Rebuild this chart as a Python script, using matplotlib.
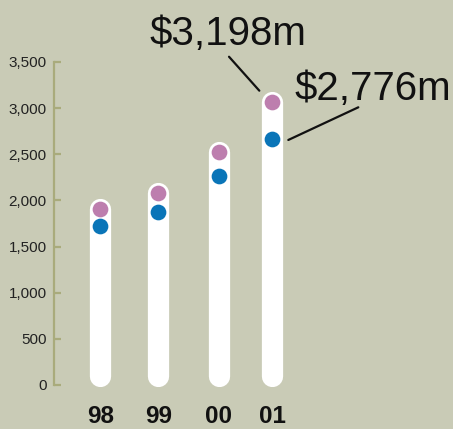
import matplotlib
matplotlib.use("Agg")
import matplotlib.pyplot as plt

# ---- data ----
years = ["98", "99", "00", "01"]
purple_vals = [1907, 2084, 2524, 3063]
blue_vals = [1726, 1878, 2264, 2665]
yticks = [0, 500, 1000, 1500, 2000, 2500, 3000, 3500]
ytick_labels = ["0", "500", "1,000", "1,500", "2,000", "2,500", "3,000", "3,500"]
label_top = "$3,198m"
label_bottom = "$2,776m"

# ---- layout ----
positions = [0, 1, 2.05, 2.97]
bar_base = 95
BG = "#c9cbb6"
AXC = "#a9ab7c"
PURPLE = "#bd7eae"
BLUE = "#0a75b8"
FAM = ["Liberation Sans", "DejaVu Sans"]

fig = plt.figure(figsize=(4.53, 4.29), dpi=100)
fig.patch.set_facecolor(BG)
ax = fig.add_axes([0, 0, 1, 1])
ax.set_facecolor(BG)
ax.set_xlim(-1.734, 6.097)
ax.set_ylim(-476.8, 4171.7)

# bars as thick round-capped white lines
for x, p in zip(positions, purple_vals):
    ax.plot([x, x], [bar_base, p], color="white", lw=15.3,
            solid_capstyle="round", zorder=2)

ax.scatter(positions, purple_vals, s=128, color=PURPLE, zorder=3, linewidths=0)
ax.scatter(positions, blue_vals, s=128, color=BLUE, zorder=3, linewidths=0)

# spines
for s in ["top", "right", "bottom"]:
    ax.spines[s].set_visible(False)
ax.spines["left"].set_position(("data", -0.809))
ax.spines["left"].set_bounds(0, 3500)
ax.spines["left"].set_color(AXC)
ax.spines["left"].set_linewidth(1.6)
ax.set_yticks(yticks)
ax.set_yticklabels(ytick_labels)
ax.tick_params(axis="y", direction="in", length=5, width=1.6, color=AXC,
               pad=5, labelsize=11, labelcolor="#222222")
for t in ax.get_yticklabels():
    t.set_family(FAM)
ax.set_xticks([])

# x category labels
for x, lab in zip(positions, years):
    ax.text(x, -340, lab, ha="center", va="center", fontsize=17.5,
            fontweight="bold", family=FAM, color="#111111")

# callouts
ax.text(2.212, 3689, label_top, ha="center", va="baseline", fontsize=29,
        family=FAM, color="#111111")
ax.text(4.714, 3088, label_bottom, ha="center", va="baseline", fontsize=29,
        family=FAM, color="#111111")
ax.annotate("", xy=(2.749, 3189), xytext=(2.225, 3557),
            arrowprops=dict(arrowstyle="-", color="#111111", lw=1.6,
                            shrinkA=0, shrinkB=0))
ax.annotate("", xy=(3.25, 2655), xytext=(4.46, 3009),
            arrowprops=dict(arrowstyle="-", color="#111111", lw=1.6,
                            shrinkA=0, shrinkB=0))

fig.savefig("out.png", dpi=100, facecolor=BG)
